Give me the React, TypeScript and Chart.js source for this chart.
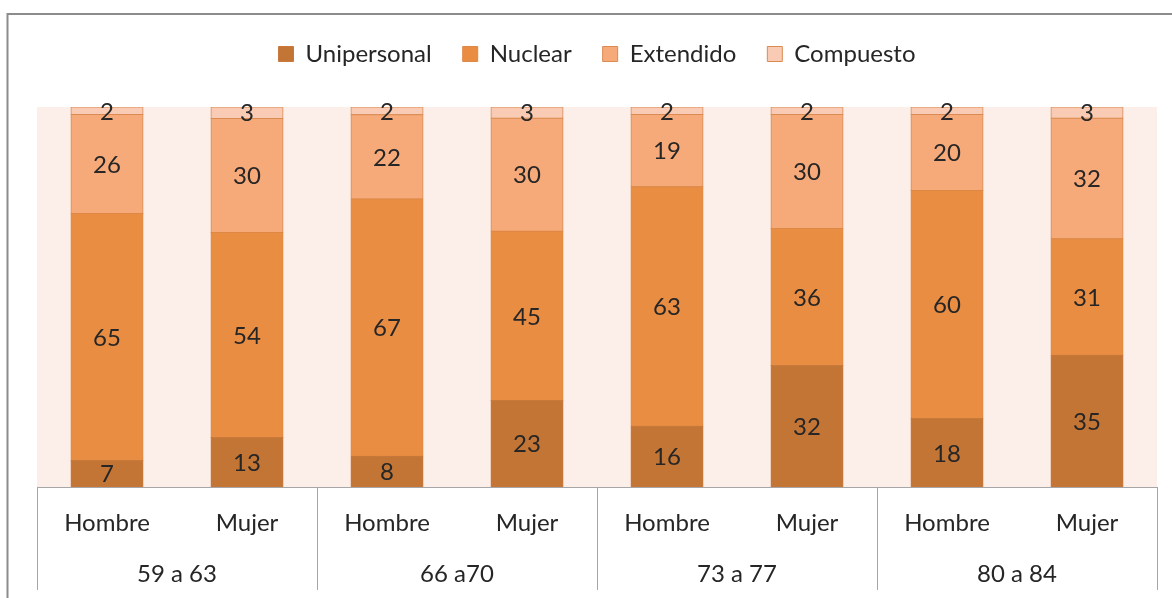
import React, { useEffect, useRef } from "react";
import { Chart, registerables } from "chart.js";

Chart.register(...registerables);

// ---- data ----
const groups = ["59 a 63", "66 a70", "73 a 77", "80 a 84"];
const sexes = ["Hombre", "Mujer"];
const seriesNames = ["Unipersonal", "Nuclear", "Extendido", "Compuesto"];
const unipersonal = [7, 13, 8, 23, 16, 32, 18, 35];
const nuclear = [65, 54, 67, 45, 63, 36, 60, 31];
const extendido = [26, 30, 22, 30, 19, 30, 20, 32];
const compuesto = [2, 3, 2, 3, 2, 2, 2, 3];

// ---- styles ----
const FONT = "Lato";
const fillColors = ["#C37535", "#E98D43", "#F7AA79", "#FACBB4"];
const borderColors = ["#C9793C", "#DE8845", "#D98B52", "#D98B52"];
const plotBg = "#FCEEE9";
const gridColor = "#A6A6A6";
const textColor = "#262626";

const series = [unipersonal, nuclear, extendido, compuesto];
const categoryLabels: string[] = [];
groups.forEach(() => sexes.forEach((s) => categoryLabels.push(s)));
const totals = categoryLabels.map((_, i) => series.reduce((acc, s) => acc + s[i], 0));

const decorPlugin = {
  id: "decor",
  beforeDraw(chart: any) {
    const { ctx, chartArea: a } = chart;
    ctx.save();
    ctx.fillStyle = "#ffffff";
    ctx.fillRect(0, 0, chart.width, chart.height);
    ctx.strokeStyle = "#8c8c8c";
    ctx.lineWidth = 2;
    ctx.beginPath();
    ctx.moveTo(7.5, chart.height);
    ctx.lineTo(7.5, 14);
    ctx.lineTo(chart.width, 14);
    ctx.stroke();
    ctx.fillStyle = plotBg;
    ctx.fillRect(a.left, a.top, a.right - a.left, a.bottom - a.top);
    ctx.restore();
  },
  afterDatasetsDraw(chart: any) {
    const { ctx } = chart;
    ctx.save();
    ctx.font = `24px ${FONT}`;
    ctx.fillStyle = textColor;
    ctx.textAlign = "center";
    ctx.textBaseline = "middle";
    chart.data.datasets.forEach((ds: any, di: number) => {
      const meta = chart.getDatasetMeta(di);
      meta.data.forEach((bar: any, i: number) => {
        const { x, y, base } = bar.getProps(["x", "y", "base"], true);
        ctx.fillText(String(series[di][i]), x, (y + base) / 2 + 1);
      });
    });
    ctx.restore();
  },
  afterDraw(chart: any) {
    const { ctx, chartArea: a } = chart;
    const xs = chart.scales.x;
    const tableBottom = 590;
    ctx.save();
    ctx.strokeStyle = gridColor;
    ctx.lineWidth = 1;
    ctx.beginPath();
    ctx.moveTo(a.left, Math.round(a.bottom) + 0.5);
    ctx.lineTo(a.right, Math.round(a.bottom) + 0.5);
    const bounds: number[] = [a.left];
    for (let g = 1; g < groups.length; g++) {
      const i = g * sexes.length;
      bounds.push((xs.getPixelForValue(i - 1) + xs.getPixelForValue(i)) / 2);
    }
    bounds.push(a.right);
    bounds.forEach((bx) => {
      const px = Math.round(bx) + 0.5;
      ctx.moveTo(px, a.bottom);
      ctx.lineTo(px, tableBottom);
    });
    ctx.stroke();

    ctx.font = `24px ${FONT}`;
    ctx.fillStyle = textColor;
    ctx.textAlign = "center";
    ctx.textBaseline = "alphabetic";
    categoryLabels.forEach((lab, i) => {
      ctx.fillText(lab, xs.getPixelForValue(i), 531);
    });
    groups.forEach((g, gi) => {
      ctx.fillText(g, (bounds[gi] + bounds[gi + 1]) / 2, 582);
    });
    ctx.restore();
  },
};

export default function App() {
  const canvasRef = useRef<HTMLCanvasElement | null>(null);

  useEffect(() => {
    document.body.style.margin = "0";
    const canvas = canvasRef.current;
    if (!canvas) return;
    const chart = new Chart(canvas, {
      type: "bar",
      data: {
        labels: categoryLabels,
        datasets: seriesNames.map((name, di) => ({
          label: name,
          data: series[di].map((v, i) => (v / totals[i]) * 100),
          backgroundColor: fillColors[di],
          borderColor: borderColors[di],
          borderWidth: 1,
          borderSkipped: false,
          inflateAmount: 0.5,
          categoryPercentage: 1,
          barPercentage: 72 / 140,
        })),
      },
      options: {
        responsive: false,
        animation: false,
        layout: { padding: { top: 11, left: 37, right: 15, bottom: 111 } },
        scales: {
          x: { stacked: true, display: false },
          y: { stacked: true, display: false, min: 0, max: 100 },
        },
        plugins: {
          legend: {
            display: true,
            position: "top",
            labels: {
              color: textColor,
              font: { family: FONT, size: 24 },
              boxWidth: 15,
              boxHeight: 15,
              padding: 31,
            },
          },
          subtitle: {
            display: true,
            text: "",
            weight: 500,
            padding: 0,
            font: { size: 31, lineHeight: 1 },
          } as any,
          tooltip: { enabled: false },
        },
      },
      plugins: [decorPlugin],
    });
    return () => chart.destroy();
  }, []);

  return (
    <div style={{ width: 1172, height: 598, overflow: "hidden" }}>
      <canvas ref={canvasRef} width={1172} height={598} style={{ display: "block" }} />
    </div>
  );
}
